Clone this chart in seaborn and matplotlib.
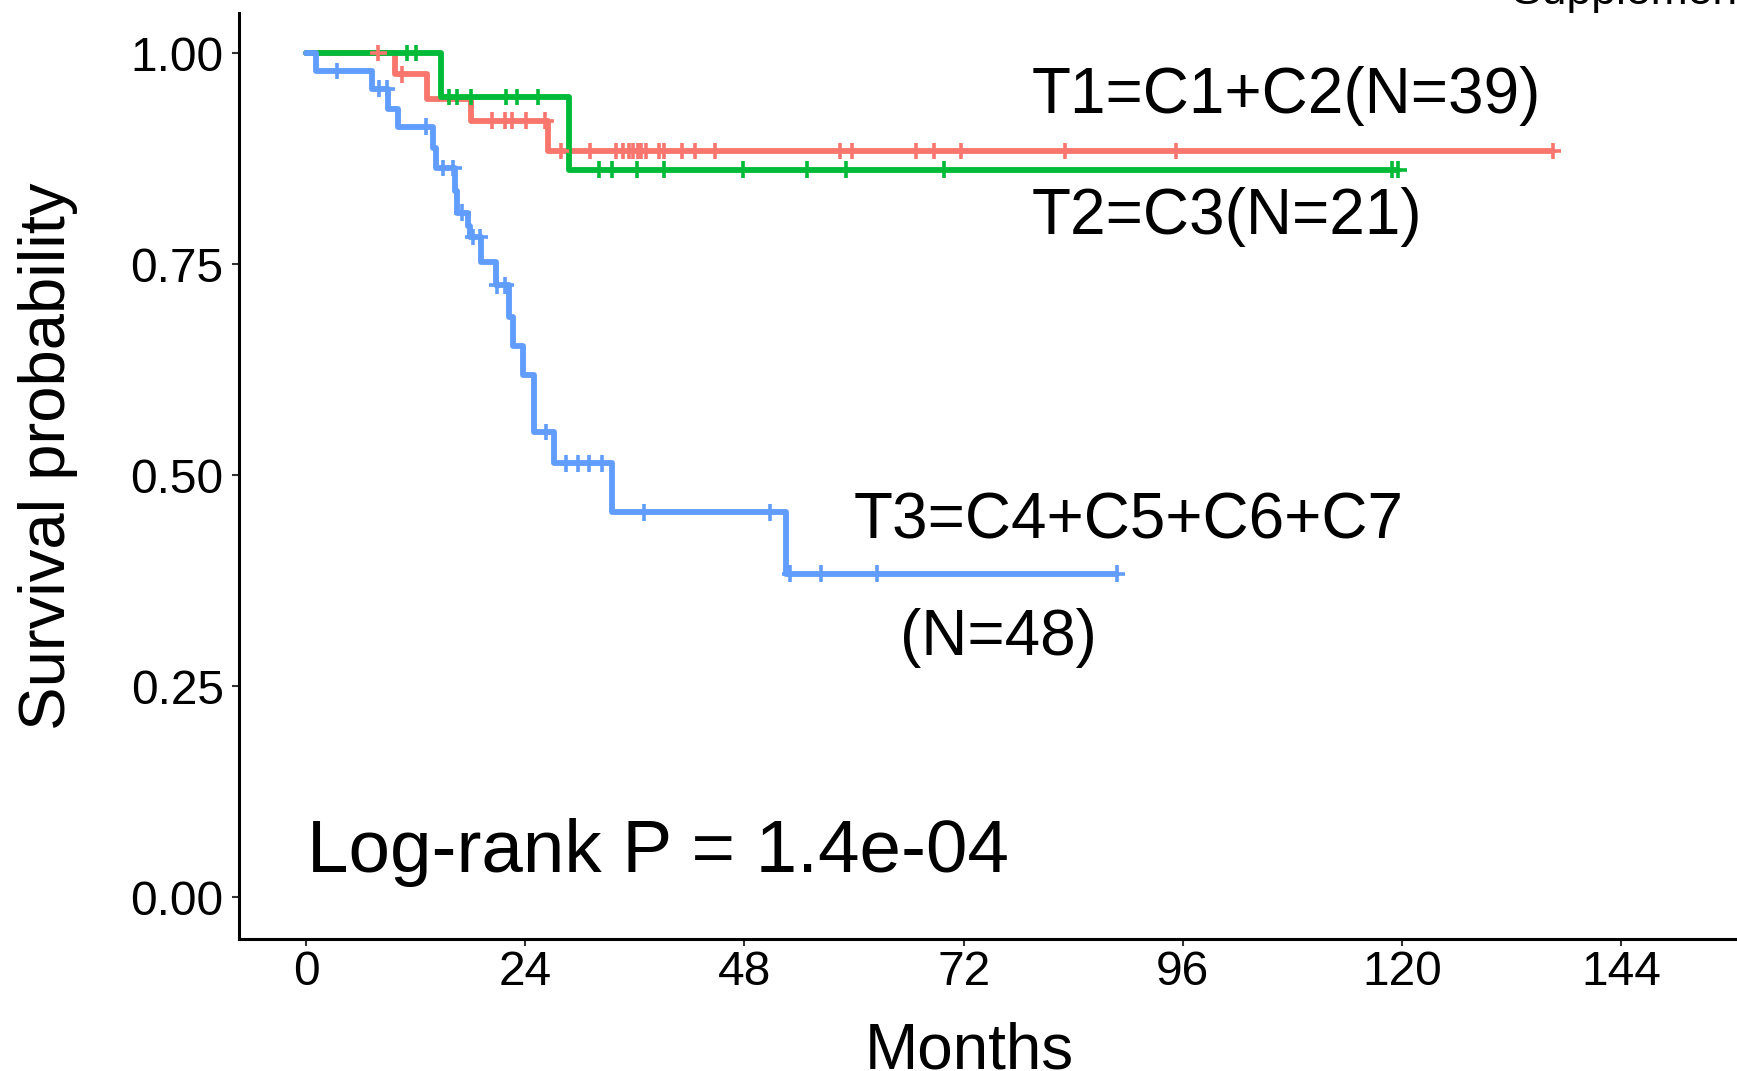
import numpy as np
import pandas as pd
import matplotlib
matplotlib.use("Agg")
import matplotlib.pyplot as plt
import seaborn as sns

# groups and ggplot-style colours
groups = ["T1", "T2", "T3"]
colors = ["#F8766D", "#00BA38", "#619CFF"]

# Kaplan-Meier steps (months, survival after the step)
t1_time = [0, 9.7, 13.2, 18.0, 26.5, 136.5]
t1_surv = [1.0, 0.975, 0.946, 0.920, 0.884, 0.884]
t2_time = [0, 14.8, 28.8, 119.6]
t2_surv = [1.0, 0.948, 0.862, 0.862]
t3_time = [0, 1.1, 7.2, 9.0, 10.1, 13.9, 14.2, 16.3, 16.5, 17.7, 17.9, 19.1,
           20.8, 22.2, 22.7, 23.7, 24.9, 25.0, 27.1, 33.5, 52.6, 88.8]
t3_surv = [1.0, 0.979, 0.958, 0.934, 0.913, 0.888, 0.864, 0.837, 0.811, 0.795,
           0.782, 0.752, 0.725, 0.687, 0.653, 0.618, 0.585, 0.551, 0.514, 0.456,
           0.383, 0.383]

# censoring times (months)
t1_cens = [7.9, 10.5, 20.4, 21.8, 22.5, 24.1, 26.2, 27.9, 31.1, 33.9, 34.7, 35.3,
           35.8, 36.3, 36.7, 37.2, 38.6, 39.2, 41.2, 42.6, 44.8, 58.5, 59.8, 66.8,
           68.8, 71.7, 83.1, 95.3, 136.5]
t2_cens = [11.0, 12.0, 15.6, 16.5, 18.0, 21.9, 23.1, 25.4, 32.1, 33.5, 36.2, 39.2,
           47.8, 54.9, 59.1, 69.9, 118.9, 119.6]
t3_cens = [3.4, 8.0, 8.8, 13.1, 15.0, 16.1, 17.1, 18.3, 19.0, 20.9, 21.8, 26.3,
           28.5, 29.8, 31.0, 32.4, 37.0, 50.8, 53.0, 56.4, 62.5, 88.8]

x_ticks = [0, 24, 48, 72, 96, 120, 144]
y_ticks = [0, 0.25, 0.5, 0.75, 1.0]
y_tick_labels = ["0.00", "0.25", "0.50", "0.75", "1.00"]

steps = {"T1": (t1_time, t1_surv), "T2": (t2_time, t2_surv), "T3": (t3_time, t3_surv)}
cens_times = {"T1": t1_cens, "T2": t2_cens, "T3": t3_cens}

# long tables for seaborn
curves = pd.concat([pd.DataFrame({"time": t, "surv": s, "group": g})
                    for g, (t, s) in steps.items()], ignore_index=True)
rows = []
for g in groups:
    t, s = steps[g]
    idx = np.searchsorted(t, cens_times[g], side="right") - 1
    rows.append(pd.DataFrame({"time": cens_times[g], "surv": np.array(s)[idx], "group": g}))
cens = pd.concat(rows, ignore_index=True)

sns.set_theme(style="ticks")
plt.rcParams["font.family"] = ["Liberation Sans", "DejaVu Sans"]
plt.rcParams["text.color"] = "black"
plt.rcParams["axes.labelcolor"] = "black"

pal = dict(zip(groups, colors))
fig = plt.figure(figsize=(17.37, 10.71), dpi=100)
ax = fig.add_axes([0.1376, 0.1232, 0.8624, 0.8647])

sns.lineplot(data=curves, x="time", y="surv", hue="group", palette=pal,
             drawstyle="steps-post", estimator=None, sort=False,
             linewidth=4.2, legend=False, ax=ax)
sns.scatterplot(data=cens, x="time", y="surv", hue="group", palette=pal,
                marker="+", s=12 ** 2, linewidth=2.6, legend=False, ax=ax, zorder=3)

ax.set_xlim(-7.36, 156.7)
ax.set_ylim(-0.0498, 1.0476)
ax.set_xticks(x_ticks)
ax.set_yticks(y_ticks)
ax.set_yticklabels(y_tick_labels)

for side in ["top", "right"]:
    ax.spines[side].set_visible(False)
for side in ["left", "bottom"]:
    ax.spines[side].set_linewidth(2.2)
    ax.spines[side].set_color("black")
ax.tick_params(length=5, width=1.5, color="#333333", labelsize=34.5, labelcolor="black")
ax.tick_params(axis="y", pad=6)
ax.tick_params(axis="x", pad=3)

ax.set_xlabel("Months", fontsize=46)
ax.set_ylabel("Survival probability", fontsize=47)
ax.xaxis.set_label_coords(0.4878, -0.0893)
ax.yaxis.set_label_coords(-0.1072, 0.5218)

# curve labels and p-value
ax.text(79.5, 0.9295, "T1=C1+C2(N=39)", fontsize=46, va="baseline")
ax.text(79.5, 0.7855, "T2=C3(N=21)", fontsize=46, va="baseline")
ax.text(59.9, 0.4253, "T3=C4+C5+C6+C7", fontsize=46, va="baseline")
ax.text(65.0, 0.2871, "(N=48)", fontsize=46, va="baseline")
ax.text(0.1, 0.0291, "Log-rank P = 1.4e-04", fontsize=53.7, va="baseline")

fig.text(1512 / 1737, 1 - 4 / 1071, "Supplementary Figure", fontsize=32, va="baseline")

fig.savefig("out.png", dpi=100)
